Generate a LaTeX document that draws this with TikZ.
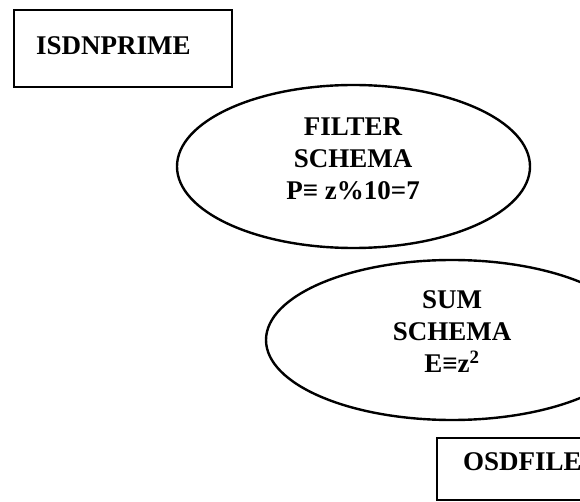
\documentclass[tikz,border=0pt]{standalone}
\usepackage{fontspec}
\setmainfont{Liberation Serif}
\usepackage{tikz}
\usetikzlibrary{positioning,shapes.geometric}

\begin{document}
\begin{tikzpicture}[x=1pt, y=-1pt, line width=2.4pt,
    font=\fontsize{27}{32}\selectfont\bfseries,
    filebox/.style={draw, rectangle, inner sep=0pt},
    schema/.style={draw, ellipse, inner sep=0pt},
    tag/.style={inner sep=0pt, align=center}]
  \useasboundingbox (0,0) rectangle (580,502);
  \clip (0,0) rectangle (580,502);
  % files
  \node [filebox, minimum width=218pt, minimum height=77pt] (isdn) at (123,48.5) {};
  \node [tag, anchor=base west] (isdntext) at (35,55) {ISDNPRIME};
  \node [filebox, minimum width=175pt, minimum height=62pt] (osd) at (524.5,469) {};
  \node [tag, anchor=base west] (osdtext) at (462,470) {OSDFILE};
  % schemas
  \node [schema, minimum width=353pt, minimum height=163pt] (filter) at (353.5,166.5) {};
  \node [tag] (filtertext) at (353,158.5) {FILTER\\SCHEMA\\P≡ z\%10=7};
  \node [schema, minimum width=372pt, minimum height=160pt] (sum) at (452,340) {};
  \node [tag] (sumtext) at (452,332) {SUM\\SCHEMA\\E≡z\textsuperscript{2}};
\end{tikzpicture}
\end{document}
